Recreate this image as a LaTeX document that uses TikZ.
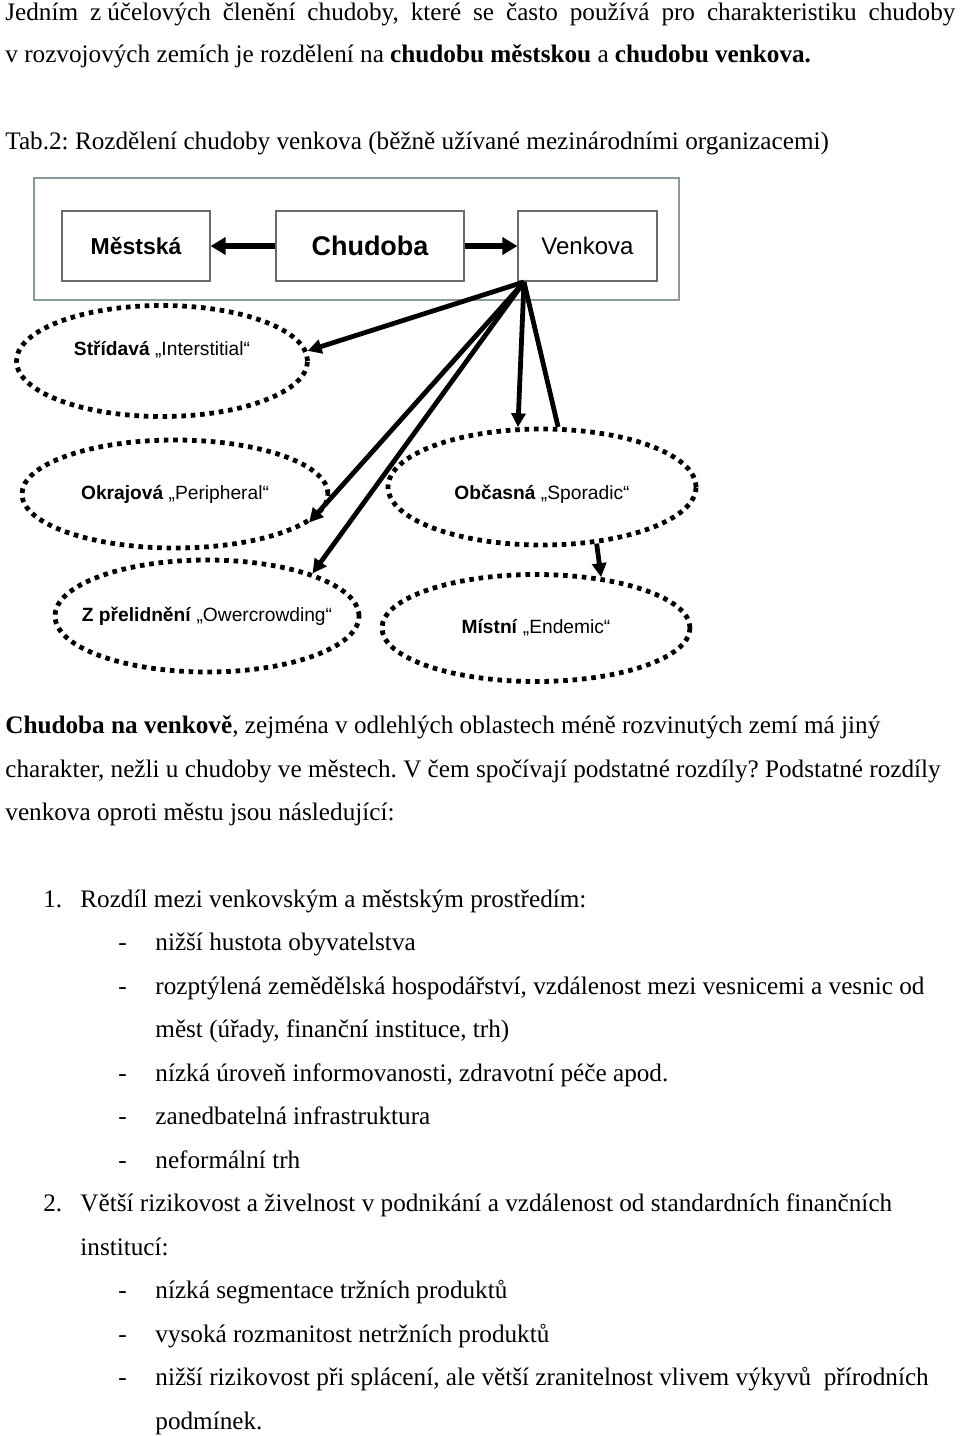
\documentclass[tikz,border=0pt]{standalone}
\usepackage{fontspec}
\setmainfont{Liberation Serif}
\newfontfamily\diafont{Liberation Sans}
\usetikzlibrary{arrows.meta}
\usetikzlibrary{shapes.geometric}
\definecolor{framegray}{rgb}{0.55,0.60,0.62}
\definecolor{boxgray}{rgb}{0.40,0.42,0.44}
\newcommand{\ovaltext}[2]{\makebox[0pt]{\textbf{#1} „#2“}}
\frenchspacing

\tikzset{
  txt/.style={anchor=base west, inner sep=0pt, font=\fontsize{12.6}{15}\selectfont},
  box/.style={draw=boxgray, line width=0.6pt, inner sep=0pt, minimum height=35pt},
  oval/.style={ellipse, draw, line width=2.4pt, dash pattern=on 2.3pt off 2.4pt, inner sep=0pt,
    font=\diafont\fontsize{9.6}{11}\selectfont},
  fat/.style={line width=3.2pt, -{Triangle[length=7.5pt,width=8.5pt]}},
  thin/.style={line width=2.4pt, -{Triangle[length=7pt,width=7pt]}},
}

\begin{document}
\begin{tikzpicture}[line cap=butt, line join=miter, x=0.5pt, y=-0.5pt]
\useasboundingbox (0,0) rectangle (960,1436);
% uvodni text
\node[txt] (l1) at (5,20) {\makebox[475pt][s]{Jedním z\hspace{3pt}účelových členění chudoby, které se často používá pro charakteristiku chudoby}};
\node[txt] (l2) at (5,62) {v rozvojových zemích je rozdělení na \textbf{chudobu městskou} a \textbf{chudobu venkova.}};
\node[txt] (tab) at (5,149) {Tab.2: Rozdělení chudoby venkova (běžně užívané mezinárodními organizacemi)};
% schema
\draw[framegray, line width=0.8pt] (34,178) rectangle (679,300);
\node[box, minimum width=74pt, font=\diafont\bfseries\fontsize{11.5}{13}\selectfont] (mest) at (136,246) {Městská};
\node[box, minimum width=94pt, font=\diafont\bfseries\fontsize{13.5}{15}\selectfont] (chud) at (370,246) {Chudoba};
\node[box, minimum width=69.5pt, font=\diafont\fontsize{12}{14}\selectfont] (venk) at (587.5,246) {Venkova};
\draw[fat] (chud.west) -- (mest.east);
\draw[fat] (chud.east) -- (venk.west);
\coordinate (hub) at (524,282);
\node[oval, minimum width=145.5pt, minimum height=55.5pt, text depth=13pt] (stri) at (162,361) {\ovaltext{Střídavá}{Interstitial}};
\node[oval, minimum width=153pt, minimum height=54pt] (okra) at (175,494) {\ovaltext{Okrajová}{Peripheral}};
\node[oval, minimum width=154pt, minimum height=58pt, text height=14pt] (obca) at (542,487) {\ovaltext{Občasná}{Sporadic}};
\node[oval, minimum width=152pt, minimum height=56pt] (prel) at (207,616) {\ovaltext{Z přelidnění}{Owercrowding}};
\node[oval, minimum width=154pt, minimum height=53.5pt] (mist) at (536,628) {\ovaltext{Místní}{Endemic}};
\draw[thin] (hub) -- (stri.4);
\draw[thin] (hub) -- (okra.-12);
\draw[thin] (hub) -- (prel.22);
\draw[thin] (hub) -- (obca.112);
\draw[line width=2.4pt] (hub) -- (obca.75);
\draw[thin] (obca.-46) -- (mist.38);
% text pod schematem
\node[txt] (p1) at (5,733) {\textbf{Chudoba na venkově}, zejména v odlehlých oblastech méně rozvinutých zemí má jiný};
\node[txt] (p2) at (5,777) {charakter, nežli u chudoby ve městech. V čem spočívají podstatné rozdíly? Podstatné rozdíly};
\node[txt] (p3) at (5,820) {venkova oproti městu jsou následující:};
\node[txt] (n1) at (43,907) {1.};
\node[txt] (r1) at (80,907) {Rozdíl mezi venkovským a městským prostředím:};
\node[txt] (a1) at (155,950) {nižší hustota obyvatelstva};
\node[txt] (a2) at (155,994) {rozptýlená zemědělská hospodářství, vzdálenost mezi vesnicemi a vesnic od};
\node[txt] (a2b) at (155,1037) {měst (úřady, finanční instituce, trh)};
\node[txt] (a3) at (155,1081) {nízká úroveň informovanosti, zdravotní péče apod.};
\node[txt] (a4) at (155,1124) {zanedbatelná infrastruktura};
\node[txt] (a5) at (155,1168) {neformální trh};
\node[txt] (n2) at (43,1211) {2.};
\node[txt] (r2) at (80,1211) {Větší rizikovost a živelnost v podnikání a vzdálenost od standardních finančních};
\node[txt] (r2b) at (80,1255) {institucí:};
\node[txt] (b1) at (155,1298) {nízká segmentace tržních produktů};
\node[txt] (b2) at (155,1342) {vysoká rozmanitost netržních produktů};
\node[txt] (b3) at (155,1385) {nižší rizikovost při splácení, ale větší zranitelnost vlivem výkyvů\ \ přírodních};
\node[txt] (b3b) at (155,1429) {podmínek.};
\foreach \y [count=\i] in {950,994,1081,1124,1168,1298,1342,1385}
  \node[txt] (d\i) at (118,\y) {-};
\end{tikzpicture}
\end{document}
